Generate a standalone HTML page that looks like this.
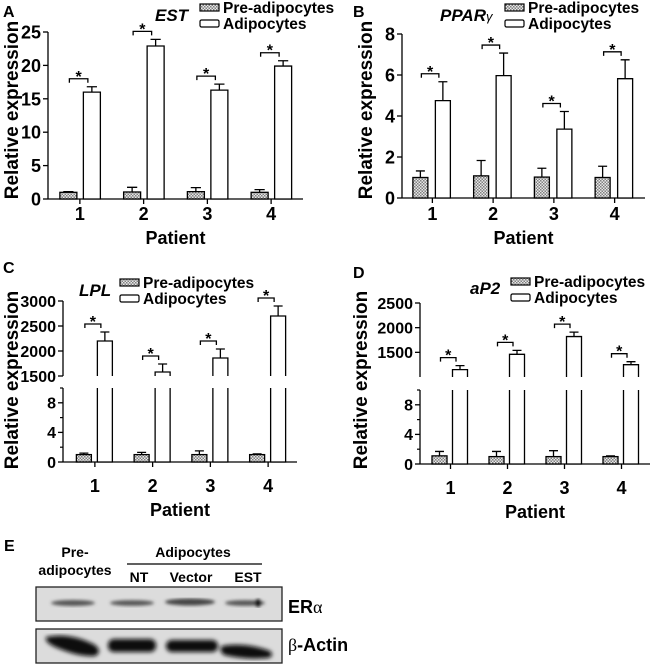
<!DOCTYPE html>
<html><head><meta charset="utf-8">
<style>
html,body{margin:0;padding:0;background:#fff;}
svg{display:block;font-family:"Liberation Sans",Arial,sans-serif;}
text{font-weight:bold;}
</style></head>
<body>
<svg id="fig" width="650" height="666" viewBox="0 0 650 666" xmlns="http://www.w3.org/2000/svg">
<defs>
<pattern id="chk" width="3" height="3" patternUnits="userSpaceOnUse">
<rect width="3" height="3" fill="#e8e8e8"/><rect width="1.5" height="1.5" fill="#808080"/><rect x="1.5" y="1.5" width="1.5" height="1.5" fill="#808080"/>
</pattern>
<filter id="blur1"><feGaussianBlur stdDeviation="1.5"/></filter>
<filter id="blur2"><feGaussianBlur stdDeviation="2.2"/></filter>
</defs>
<g id="panels"></g>

<!-- Panel E western blot -->
<g>
<text x="4" y="551" font-size="16">E</text>
<text x="75" y="557" font-size="14" text-anchor="middle">Pre-</text>
<text x="75" y="575" font-size="14" text-anchor="middle">adipocytes</text>
<text x="193" y="557" font-size="14" text-anchor="middle">Adipocytes</text>
<line x1="127" y1="564" x2="262" y2="564" stroke="#000" stroke-width="1.2"/>
<text x="139" y="582" font-size="14" text-anchor="middle">NT</text>
<text x="191" y="582" font-size="14" text-anchor="middle">Vector</text>
<text x="248" y="582" font-size="14" text-anchor="middle">EST</text>
<g>
<rect x="36" y="587" width="246" height="34" fill="#dcdcdc" stroke="#222" stroke-width="1.3"/>
<g filter="url(#blur1)" fill="#555">
<ellipse cx="73" cy="603" rx="22" ry="3"/>
<ellipse cx="132" cy="603" rx="22" ry="2.8"/>
<ellipse cx="190" cy="602" rx="25" ry="3.5" fill="#444"/>
<ellipse cx="245" cy="603" rx="20" ry="2.8"/>
<ellipse cx="258" cy="603" rx="3" ry="4" fill="#111"/>
</g>
</g>
<text x="288" y="613" font-size="18">ER<tspan font-weight="normal" font-family="Liberation Serif,serif">α</tspan></text>
<g>
<rect x="36" y="629" width="246" height="34" fill="#dcdcdc" stroke="#222" stroke-width="1.3"/>
<g filter="url(#blur2)" fill="#0a0a0a">
<path d="M46,637 Q70,632 95,645 Q103,652 95,656 Q80,657 60,649 Q44,643 46,637 Z"/>
<rect x="108" y="639" width="48" height="13" rx="6"/>
<rect x="166" y="640" width="52" height="12" rx="6"/>
<path d="M222,646 Q245,642 270,651 Q275,656 268,658 Q245,660 224,655 Q218,650 222,646 Z"/>
</g>
</g>
<text x="288" y="651" font-size="18"><tspan font-weight="normal" font-family="Liberation Serif,serif">β</tspan>-Actin</text>
</g>
</svg>
<script>
// ---- Data ----
var patients = ["1","2","3","4"];
var estPre = [1.0, 1.05, 1.1, 1.0];
var estPreErr = [0.1, 0.7, 0.6, 0.4];
var estAd = [16.0, 22.9, 16.3, 19.9];
var estAdErr = [0.8, 1.0, 0.9, 0.8];
var pparPre = [1.0, 1.08, 1.02, 1.0];
var pparPreErr = [0.32, 0.75, 0.43, 0.55];
var pparAd = [4.75, 5.97, 3.36, 5.82];
var pparAdErr = [0.92, 1.1, 0.86, 0.92];
var lplPre = [1.0, 1.0, 1.0, 1.0];
var lplPreErr = [0.2, 0.3, 0.5, 0.1];
var lplAd = [2200, 1580, 1860, 2700];
var lplAdErr = [180, 160, 180, 200];
var ap2Pre = [1.1, 1.0, 1.0, 1.0];
var ap2PreErr = [0.6, 0.7, 0.8, 0.1];
var ap2Ad = [1150, 1460, 1820, 1250];
var ap2AdErr = [80, 80, 90, 60];
var ticksA = [0,5,10,15,20,25];
var ticksB = [0,2,4,6,8];
var ticksLow = [0,4,8];
var ticksLowMinor = [2,6,10];
var ticksUpC = [1500,2000,2500,3000];
var ticksUpD = [1500,2000,2500];

var NS = "http://www.w3.org/2000/svg";
var root = document.getElementById('panels');
function mk(tag, attrs, parent){
  var e = document.createElementNS(NS, tag);
  for (var k in attrs) e.setAttribute(k, attrs[k]);
  (parent||root).appendChild(e); return e;
}
function txt(parent, x, y, s, size, anchor, extra){
  var t = mk('text', {x:x, y:y, 'font-size':size, 'text-anchor':anchor||'start'}, parent);
  t.textContent = s;
  if (extra) for (var k in extra) t.setAttribute(k, extra[k]);
  return t;
}

function panel(c){
  var g = mk('g', {});
  
  
  function y(v){
    for (var i=0;i<c.segs.length;i++){
      var s=c.segs[i];
      if (v<=s.hi || i==c.segs.length-1){
        if (v<s.lo && i>0) v=s.lo;
        return s.yLo + (v-s.lo)/(s.hi-s.lo)*(s.yHi-s.yLo);
      }
    }
  }
  var step = (c.bandEnd - c.bandStart)/patients.length;
  function cx(i){ return c.bandStart + (i+0.5)*step; }
  c.segs.forEach(function(s, si){
    var ax = mk('line', {x1:c.ax, x2:c.ax, y1:s.yLo, y2:s.yHi, stroke:'#000','stroke-width':1.3}, g);
    
    
    s.ticks.forEach(function(t){
      var yy = y(t);
      mk('line', {x1:c.ax-5, x2:c.ax, y1:yy, y2:yy, stroke:'#000','stroke-width':1.3}, g);
      var lb = txt(g, c.ax-7, yy+c.tickSize*0.36, String(t), c.tickSize, 'end');
      
      
    });
    (s.minor||[]).forEach(function(t){
      var yy = y(t);
      mk('line', {x1:c.ax-3, x2:c.ax, y1:yy, y2:yy, stroke:'#000','stroke-width':1.2}, g);
    });
  });
  var y0 = y(0);
  var xa = mk('line', {x1:c.ax, x2:c.axEnd, y1:y0, y2:y0, stroke:'#000','stroke-width':1.3}, g);
  
  
  patients.forEach(function(p,i){
    var x = cx(i);
    mk('line', {x1:x, x2:x, y1:y0, y2:y0+5, stroke:'#000','stroke-width':1.3}, g);
    var lb = txt(g, x, c.xLabY, p, 18, 'middle');
    
    
  });
  var xt = txt(g, (c.ax+c.axEnd)/2, c.xTitleY, 'Patient', 18, 'middle');
  
  
  var yt = txt(g, 0, 0, 'Relative expression', 19, 'middle', {transform:'translate('+c.ytX+','+c.ytY+') rotate(-90)'});
  
  
  var pl = txt(g, c.plX, c.plY, c.id.toUpperCase(), 16, 'start');
  
  
  var w = c.barW;
  patients.forEach(function(p,i){
    var cp = cx(i)+c.offPre, ca = cx(i)+c.offAd;
    var yp = y(c.pre[i]);
    var r = mk('rect', {x:cp-w/2, y:yp, width:w, height:y0-yp, fill:'url(#chk)', stroke:'#000','stroke-width':1.3}, g);
    
    
    var ype = y(c.pre[i]+c.preErr[i]);
    mk('path', {d:'M'+cp+','+yp+'V'+ype+'M'+(cp-w*0.3)+','+ype+'H'+(cp+w*0.3), stroke:'#000','stroke-width':1.3, fill:'none'}, g);
    var va = c.ad[i], ya = y(va);
    var path;
    if (c.segs.length>1){
      var low=c.segs[0], up=c.segs[1];
      path = 'M'+(ca-w/2)+','+low.yHi+'V'+y0+'H'+(ca+w/2)+'V'+low.yHi+
             'M'+(ca-w/2)+','+up.yLo+'V'+ya+'H'+(ca+w/2)+'V'+up.yLo;
    } else {
      path = 'M'+(ca-w/2)+','+y0+'V'+ya+'H'+(ca+w/2)+'V'+y0+'Z';
    }
    var b = mk('path', {d:path, fill:'#fff', stroke:'#000','stroke-width':1.3}, g);
    
    
    var yae = y(va+c.adErr[i]);
    mk('path', {d:'M'+ca+','+ya+'V'+yae+'M'+(ca-w*0.3)+','+yae+'H'+(ca+w*0.3), stroke:'#000','stroke-width':1.3, fill:'none'}, g);
    var yb = yae - 8;
    var x1 = cp+1, x2 = ca-4;
    var br = mk('path', {d:'M'+x1+','+(yb+4)+'V'+yb+'H'+x2+'V'+(yb+4), stroke:'#000','stroke-width':1.3, fill:'none'}, g);
    
    
    var st = txt(g, (x1+x2)/2, yb+3, '*', 16, 'middle');
    
    
  });
  var L = c.leg;
  var lg = mk('g', {}, g);
  
  
  mk('rect', {x:L.x, y:L.y, width:19, height:7, fill:'url(#chk)', stroke:'#000','stroke-width':1.2}, lg);
  var t1 = txt(lg, L.x+23, L.y+9, 'Pre-adipocytes', 15.5, 'start');
  
  
  mk('rect', {x:L.x, y:L.y+16, width:19, height:7, fill:'#fff', stroke:'#000','stroke-width':1.2, rx:1.5}, lg);
  var t2 = txt(lg, L.x+23, L.y+25, 'Adipocytes', 15.5, 'start');
  
  
  var gn = txt(g, c.gene.x, c.gene.y, '', 17, 'start', {'font-style':'italic'});
  
  
  if (c.gene.sub){
    gn.textContent = c.gene.t;
    var ts = document.createElementNS(NS,'tspan');
    ts.setAttribute('font-size','13'); ts.setAttribute('font-weight','normal');
    ts.textContent = c.gene.sub; gn.appendChild(ts);
  } else gn.textContent = c.gene.t;
}

panel({id:'a', ax:48, axEnd:303, bandStart:48, bandEnd:303, barW:17, offPre:-11.5, offAd:12,
  segs:[{lo:0,hi:25,yLo:199,yHi:32,ticks:ticksA}], tickSize:18,
  pre:estPre, preErr:estPreErr, ad:estAd, adErr:estAdErr,
  xLabY:220, xTitleY:244, ytX:18, ytY:110, plX:3, plY:17,
  leg:{x:200,y:4}, gene:{x:155,y:21,t:'EST'}});
panel({id:'b', ax:402, axEnd:645, bandStart:402, bandEnd:645, barW:15, offPre:-12, offAd:10.5,
  segs:[{lo:0,hi:8,yLo:198,yHi:34,ticks:ticksB}], tickSize:18,
  pre:pparPre, preErr:pparPreErr, ad:pparAd, adErr:pparAdErr,
  xLabY:220, xTitleY:244, ytX:372, ytY:110, plX:353, plY:17,
  leg:{x:505,y:4}, gene:{x:440,y:21,t:'PPAR',sub:'γ'}});
panel({id:'c', ax:63, axEnd:297, bandStart:66, bandEnd:297, barW:15, offPre:-11, offAd:10,
  segs:[{lo:0,hi:10,yLo:462,yHi:388,ticks:ticksLow,minor:ticksLowMinor},{lo:1500,hi:3000,yLo:376,yHi:301,ticks:ticksUpC}], tickSize:16,
  pre:lplPre, preErr:lplPreErr, ad:lplAd, adErr:lplAdErr,
  xLabY:492, xTitleY:516, ytX:18, ytY:380, plX:3, plY:273,
  leg:{x:120,y:279}, gene:{x:79,y:296,t:'LPL'}});
panel({id:'d', ax:420, axEnd:650, bandStart:422, bandEnd:650, barW:15, offPre:-11, offAd:9.5,
  segs:[{lo:0,hi:10,yLo:464,yHi:390,ticks:ticksLow,minor:ticksLowMinor},{lo:1000,hi:2500,yLo:377,yHi:303,ticks:ticksUpD}], tickSize:16,
  pre:ap2Pre, preErr:ap2PreErr, ad:ap2Ad, adErr:ap2AdErr,
  xLabY:494, xTitleY:518, ytX:367, ytY:380, plX:353, plY:278,
  leg:{x:511,y:278}, gene:{x:470,y:294,t:'aP2'}});
</script>
</body></html>
